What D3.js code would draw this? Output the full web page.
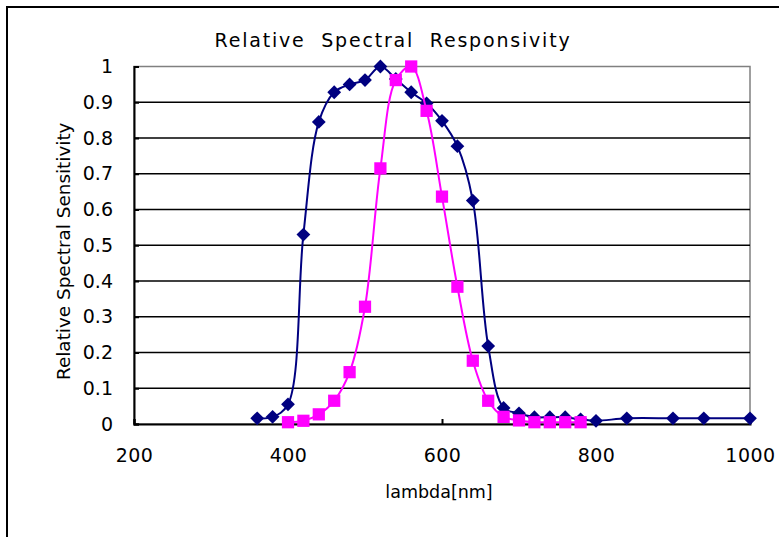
<!DOCTYPE html>
<html>
<head>
<meta charset="utf-8">
<script src="https://cdn.jsdelivr.net/npm/d3@7"></script>
<style>
  html, body { margin: 0; padding: 0; background: #fff; }
  text { font-family: "DejaVu Sans", sans-serif; fill: #000; }
</style>
</head>
<body>
<div id="chart"></div>
<script>
// ------------------------------------------------------------
// Data
// ------------------------------------------------------------
const blueWavelengths = [360, 380, 400, 420, 440, 460, 480, 500, 520, 540, 560, 580, 600, 620,
                         640, 660, 680, 700, 720, 740, 760, 780, 800, 840, 900, 940, 1000];
const blueValues = [0.016, 0.02, 0.055, 0.53, 0.845, 0.928, 0.95, 0.962, 1.0, 0.965, 0.928, 0.897, 0.848, 0.777,
                    0.625, 0.218, 0.045, 0.03, 0.019, 0.019, 0.019, 0.013, 0.009, 0.016, 0.016, 0.016, 0.016];

const pinkWavelengths = [400, 420, 440, 460, 480, 500, 520, 540, 560, 580,
                         600, 620, 640, 660, 680, 700, 720, 740, 760, 780];
const pinkValues = [0.005, 0.009, 0.027, 0.065, 0.145, 0.328, 0.715, 0.962, 1.0, 0.876,
                    0.636, 0.384, 0.177, 0.065, 0.02, 0.01, 0.005, 0.005, 0.005, 0.005];

const xTicks = [200, 400, 600, 800, 1000];
const yTicks = [0, 0.1, 0.2, 0.3, 0.4, 0.5, 0.6, 0.7, 0.8, 0.9, 1];

const titleText = "Relative  Spectral  Responsivity";
const xLabelText = "lambda[nm]";
const yLabelText = "Relative Spectral Sensitivity";

// ------------------------------------------------------------
// Layout
// ------------------------------------------------------------
const width = 779, height = 537;
const plot = { left: 134, top: 66.5, right: 750, bottom: 424 };

const svg = d3.select("#chart").append("svg")
    .attr("width", width)
    .attr("height", height);

// chart frame (runs off the right and bottom edges)
svg.append("rect")
    .attr("x", 7).attr("y", 7)
    .attr("width", 800).attr("height", 560)
    .attr("fill", "#fff")
    .attr("stroke", "#000")
    .attr("stroke-width", 2);

const x = d3.scaleLinear().domain([200, 1000]).range([plot.left, plot.right]);
const y = d3.scaleLinear().domain([0, 1]).range([plot.bottom, plot.top]);

// plot area border (grey)
svg.append("rect")
    .attr("x", plot.left).attr("y", plot.top)
    .attr("width", plot.right - plot.left)
    .attr("height", plot.bottom - plot.top)
    .attr("fill", "none")
    .attr("stroke", "#808080")
    .attr("stroke-width", 1.5);

// horizontal gridlines
svg.append("g")
    .selectAll("line")
    .data(yTicks.filter(d => d > 0 && d < 1))
    .enter()
    .append("line")
    .attr("x1", plot.left).attr("x2", plot.right)
    .attr("y1", d => y(d)).attr("y2", d => y(d))
    .attr("stroke", "#000")
    .attr("stroke-width", 1.5);

// y axis — ticks point into the plot
const yAxis = d3.axisLeft(y)
    .tickValues(yTicks)
    .tickSize(-5)
    .tickPadding(21)
    .tickFormat(d => d3.format("")(d));

const yG = svg.append("g")
    .attr("transform", `translate(${plot.left},0)`)
    .call(yAxis);

// x axis — ticks point into the plot
const xAxis = d3.axisBottom(x)
    .tickValues(xTicks)
    .tickSize(-5)
    .tickPadding(25)
    .tickFormat(d3.format("d"));

const xG = svg.append("g")
    .attr("transform", `translate(0,${plot.bottom})`)
    .call(xAxis);

[xG, yG].forEach(function (g) {
    g.select(".domain").attr("stroke", "#000").attr("stroke-width", 2);
    g.selectAll(".tick line").attr("stroke", "#000").attr("stroke-width", 2);
    g.selectAll(".tick text")
        .attr("font-size", 19)
        .attr("fill", "#000");
});
xG.selectAll(".tick text").attr("letter-spacing", 0.5);

// ------------------------------------------------------------
// Series
// ------------------------------------------------------------
const line = d3.line()
    .x(d => x(d[0]))
    .y(d => y(d[1]))
    .curve(d3.curveCatmullRom.alpha(0.5));

const blueData = blueWavelengths.map((w, i) => [w, blueValues[i]]);
const pinkData = pinkWavelengths.map((w, i) => [w, pinkValues[i]]);

svg.append("path")
    .datum(blueData)
    .attr("d", line)
    .attr("fill", "none")
    .attr("stroke", "#000080")
    .attr("stroke-width", 2);

svg.append("g")
    .selectAll("path")
    .data(blueData)
    .enter()
    .append("path")
    .attr("d", d3.symbol().type(d3.symbolSquare).size(95))
    .attr("transform", d => `translate(${x(d[0])},${y(d[1])}) rotate(45)`)
    .attr("fill", "#000080");

svg.append("path")
    .datum(pinkData)
    .attr("d", line)
    .attr("fill", "none")
    .attr("stroke", "#ff00ff")
    .attr("stroke-width", 2);

svg.append("g")
    .selectAll("path")
    .data(pinkData)
    .enter()
    .append("path")
    .attr("d", d3.symbol().type(d3.symbolSquare).size(150))
    .attr("transform", d => `translate(${x(d[0])},${y(d[1])})`)
    .attr("fill", "#ff00ff");

// ------------------------------------------------------------
// Titles
// ------------------------------------------------------------
svg.append("text")
    .attr("x", 393).attr("y", 47)
    .attr("text-anchor", "middle")
    .attr("font-size", 19)
    .attr("letter-spacing", 1.8)
    .style("white-space", "pre")
    .text(titleText);

svg.append("text")
    .attr("x", 439).attr("y", 498)
    .attr("text-anchor", "middle")
    .attr("font-size", 17.5)
    .text(xLabelText);

svg.append("text")
    .attr("transform", `translate(70,${(plot.top + plot.bottom) / 2 + 6}) rotate(-90)`)
    .attr("text-anchor", "middle")
    .attr("font-size", 18.4)
    .text(yLabelText);
</script>
</body>
</html>
